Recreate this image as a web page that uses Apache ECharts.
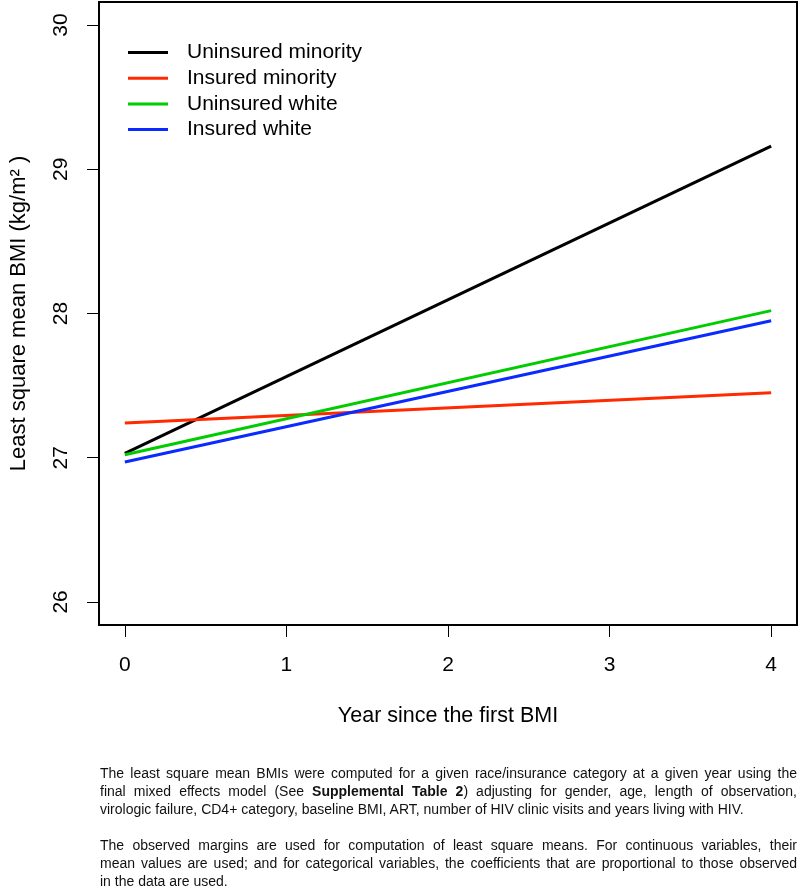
<!DOCTYPE html>
<html><head><meta charset="utf-8">
<script src="https://cdn.jsdelivr.net/npm/echarts@6/dist/echarts.min.js"></script>
<style>
html,body{margin:0;padding:0;background:#fff;}
#chart{position:absolute;left:0;top:0;width:800px;height:891px;}
#caption{position:absolute;left:100px;width:697px;top:764px;font-family:'Liberation Sans',Arial,sans-serif;font-size:14px;line-height:18px;color:#111;}
.j{text-align:justify;text-align-last:justify;}
.n{text-align:left;}
.gap{height:18px;}
</style>
</head><body>
<div id="chart"></div>
<div id="caption">
<div class="j">The least square mean BMIs were computed for a given race/insurance category at a given year using the</div>
<div class="j">final mixed effects model (See <b>Supplemental Table 2</b>) adjusting for gender, age, length of observation,</div>
<div class="n">virologic failure, CD4+ category, baseline BMI, ART, number of HIV clinic visits and years living with HIV.</div>
<div class="gap"></div>
<div class="j">The observed margins are used for computation of least square means. For continuous variables, their</div>
<div class="j">mean values are used; and for categorical variables, the coefficients that are proportional to those observed</div>
<div class="n">in the data are used.</div>
</div>
<script>
const years = [0, 4];
const seriesNames = ['Uninsured minority', 'Insured minority', 'Uninsured white', 'Insured white'];
const uninsuredMinority = [27.03, 29.16];
const insuredMinority = [27.24, 27.45];
const uninsuredWhite = [27.02, 28.02];
const insuredWhite = [26.97, 27.95];
const xTicks = [0, 1, 2, 3, 4];
const yTicks = [26, 27, 28, 29, 30];
const colors = ['#000000', '#ff2a00', '#00cc00', '#0a2aff'];

const FONT = "'Liberation Sans', Arial, sans-serif";
const allVals = [uninsuredMinority, insuredMinority, uninsuredWhite, insuredWhite];

const chart = echarts.init(document.getElementById('chart'), null, {renderer: 'canvas'});
chart.setOption({
  animation: false,
  backgroundColor: '#ffffff',
  grid: {show: true, left: 97, top: 2, right: 3, bottom: 266, borderColor: '#000', borderWidth: 2, backgroundColor: 'transparent'},
  legend: {
    data: seriesNames, orient: 'vertical', left: 128, top: 42, padding: 0,
    itemWidth: 40, itemHeight: 14, itemGap: 4.7,
    textStyle: {fontSize: 21, color: '#000', fontFamily: FONT, padding: [0, 0, 0, 14]},
    icon: 'path://M0,6 L40,6 L40,9 L0,9 Z'
  },
  xAxis: {
    type: 'value', min: -0.16, max: 4.16,
    name: 'Year since the first BMI', nameLocation: 'middle', nameGap: 80,
    nameTextStyle: {fontSize: 21.5, color: '#000', fontFamily: FONT},
    axisLine: {show: false, onZero: false}, splitLine: {show: false},
    axisTick: {show: true, customValues: xTicks, length: 12, lineStyle: {color: '#000', width: 1}},
    axisLabel: {customValues: xTicks, fontSize: 21, color: '#000', fontFamily: FONT, margin: 30}
  },
  yAxis: {
    type: 'value', min: 25.84, max: 30.16,
    name: 'Least square mean BMI (kg/m² )', nameLocation: 'middle', nameRotate: 90, nameGap: 69,
    nameTextStyle: {fontSize: 22, color: '#000', fontFamily: FONT},
    axisLine: {show: false, onZero: false}, splitLine: {show: false},
    axisTick: {show: true, customValues: yTicks, length: 12, lineStyle: {color: '#000', width: 1}},
    axisLabel: {customValues: yTicks, rotate: 90, fontSize: 21, color: '#000', fontFamily: FONT, margin: 27}
  },
  series: seriesNames.map((name, k) => ({
    name: name, type: 'line', symbol: 'none',
    itemStyle: {color: colors[k]},
    lineStyle: {color: colors[k], width: 3},
    data: years.map((x, i) => [x, allVals[k][i]])
  }))
});
</script>
</body></html>
